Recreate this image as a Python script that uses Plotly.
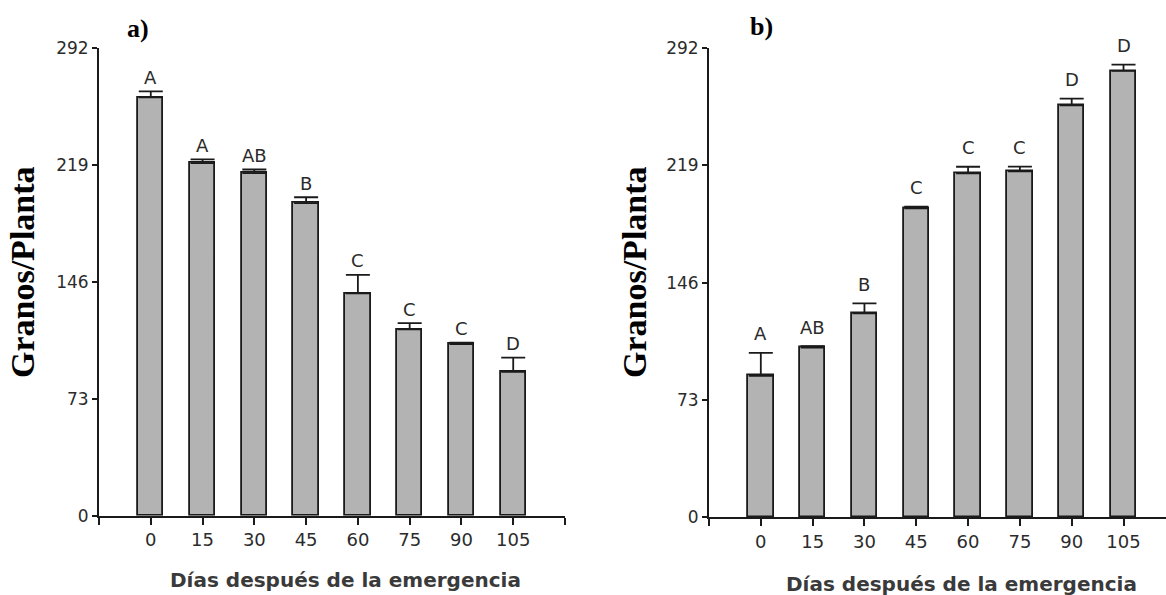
import plotly.graph_objects as go

days = ["0", "15", "30", "45", "60", "75", "90", "105"]
pos = list(range(len(days)))

mean_a = [261.0, 220.0, 213.8, 195.0, 138.7, 116.3, 107.1, 89.8]
err_a = [3.8, 2.3, 2.2, 3.7, 11.5, 3.9, 0.8, 8.8]
let_a = ["A", "A", "AB", "B", "C", "C", "C", "D"]

mean_b = [88.0, 105.5, 126.9, 192.3, 214.1, 215.4, 256.5, 277.9]
err_b = [14.2, 1.0, 6.2, 1.0, 4.1, 2.9, 4.1, 3.9]
let_b = ["A", "AB", "B", "C", "C", "C", "D", "D"]

yticks = [0, 73, 146, 219, 292]

W, H = 1166, 595
INK = "#1a1a1a"
BAR = "#b3b3b3"
TXT = "#2b2b2b"

fig = go.Figure()

def add_panel(mean, err, xa, ya):
    fig.add_trace(go.Bar(
        x=pos, y=mean, width=0.49,
        marker=dict(color=BAR, line=dict(color=INK, width=1.8)),
        error_y=dict(type="data", array=err, arrayminus=[0] * len(err), symmetric=False,
                     color=INK, thickness=1.8, width=12),
        xaxis=xa, yaxis=ya, showlegend=False,
    ))

add_panel(mean_a, err_a, "x", "y")
add_panel(mean_b, err_b, "x2", "y2")

def xaxis_cfg(dom, rng):
    return dict(domain=dom, range=rng, showline=True, linecolor=INK, linewidth=1.8,
                ticks="outside", ticklen=7, tickwidth=1.8, tickcolor=INK,
                tickvals=[-1] + pos + [8], ticktext=[""] + days + [""],
                showgrid=False, zeroline=False, automargin=False,
                tickfont=dict(family="DejaVu Sans", size=18, color=TXT))

def yaxis_cfg(dom):
    return dict(domain=dom, range=[0, 292], showline=True, linecolor=INK, linewidth=1.8,
                ticks="outside", ticklen=5, tickwidth=1.8, tickcolor=INK,
                tickvals=yticks, showgrid=False, zeroline=False, automargin=False,
                tickfont=dict(family="DejaVu Sans", size=17, color=TXT))

xa = xaxis_cfg([99 / W, 565 / W], [-1, 8]); xa["anchor"] = "y"
ya = yaxis_cfg([1 - 515.7 / H, 1 - 47.7 / H]); ya["anchor"] = "x"
xb = xaxis_cfg([709 / W, 1.0], [-1, 7.82]); xb["anchor"] = "y2"
yb = yaxis_cfg([1 - 517 / H, 1 - 48.3 / H]); yb["anchor"] = "x2"

ann = []
for i in pos:
    ann.append(dict(x=i, y=mean_a[i] + err_a[i], xref="x", yref="y", text=let_a[i],
                    showarrow=False, yanchor="middle", yshift=14,
                    font=dict(family="DejaVu Sans", size=18, color=TXT)))
    ann.append(dict(x=i, y=mean_b[i] + err_b[i], xref="x2", yref="y2", text=let_b[i],
                    showarrow=False, yanchor="middle", yshift=19,
                    font=dict(family="DejaVu Sans", size=18, color=TXT)))

def pann(text, x, y, **kw):
    d = dict(text=text, x=x / W, y=1 - y / H, xref="paper", yref="paper",
             showarrow=False, xanchor="center", yanchor="middle")
    d.update(kw)
    ann.append(d)

serif = "Liberation Serif"
pann("<b>a)</b>", 138, 28, font=dict(family=serif, size=26, color="black"))
pann("<b>b)</b>", 761, 27, font=dict(family=serif, size=26, color="black"))
pann("<b>Granos/Planta</b>", 23, 272, textangle=-90, font=dict(family=serif, size=34, color="black"))
pann("<b>Granos/Planta</b>", 635, 272, textangle=-90, font=dict(family=serif, size=34, color="black"))
pann("<b>Días después de la emergencia</b>", 345, 580, font=dict(family="DejaVu Sans", size=20, color="#3a3a3a"))
pann("<b>Días después de la emergencia</b>", 961, 584, font=dict(family="DejaVu Sans", size=20, color="#3a3a3a"))

fig.update_layout(
    width=W, height=H, margin=dict(l=0, r=0, t=0, b=0, autoexpand=False),
    paper_bgcolor="white", plot_bgcolor="white",
    xaxis=xa, yaxis=ya, xaxis2=xb, yaxis2=yb,
    annotations=ann, bargap=0,
)

fig.write_html("out.html", config={"displayModeBar": False})
